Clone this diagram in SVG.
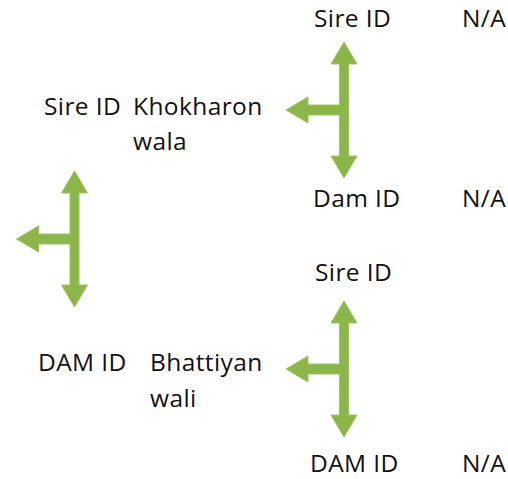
<svg xmlns="http://www.w3.org/2000/svg" xmlns:xlink="http://www.w3.org/1999/xlink" width="508" height="479" viewBox="0 0 508 479">
  <style>
    text { font-family: "Open Sans", "Liberation Sans", sans-serif; font-size: 24.5px; letter-spacing: 0.4px; fill: #111111; }
    .arrow { fill: #8BB64A; stroke: #9CC460; stroke-width: 1; }
  </style>
  <defs>
    <path id="tee" d="M0,-68 L13,-46 L4.5,-46 L4.5,46 L13,46 L0,68 L-13,46 L-4.5,46 L-4.5,5 L-36,5 L-36,13 L-58,0 L-36,-13 L-36,-5 L-4.5,-5 L-4.5,-46 L-13,-46 Z"/>
  </defs>
  <rect width="508" height="479" fill="#ffffff"/>
  <g id="connectors">
    <use xlink:href="#tee" class="arrow" transform="translate(344,110)"/>
    <use xlink:href="#tee" class="arrow" transform="translate(74.5,239)"/>
    <use xlink:href="#tee" class="arrow" transform="translate(344,369)"/>
  </g>
  <g id="sire-top">
    <text x="314" y="27">Sire ID</text>
    <text x="462" y="27">N/A</text>
  </g>
  <g id="sire-khokharon">
    <text x="44" y="115">Sire ID</text>
    <text x="133" y="115">Khokharon</text>
    <text x="133" y="150">wala</text>
  </g>
  <g id="dam-top">
    <text x="313" y="207">Dam ID</text>
    <text x="462" y="207">N/A</text>
  </g>
  <g id="sire-bottom">
    <text x="315" y="281">Sire ID</text>
  </g>
  <g id="dam-bhattiyan">
    <text x="38" y="371">DAM ID</text>
    <text x="150" y="371">Bhattiyan</text>
    <text x="150" y="407">wali</text>
  </g>
  <g id="dam-bottom">
    <text x="310" y="472">DAM ID</text>
    <text x="462" y="472">N/A</text>
  </g>
</svg>
